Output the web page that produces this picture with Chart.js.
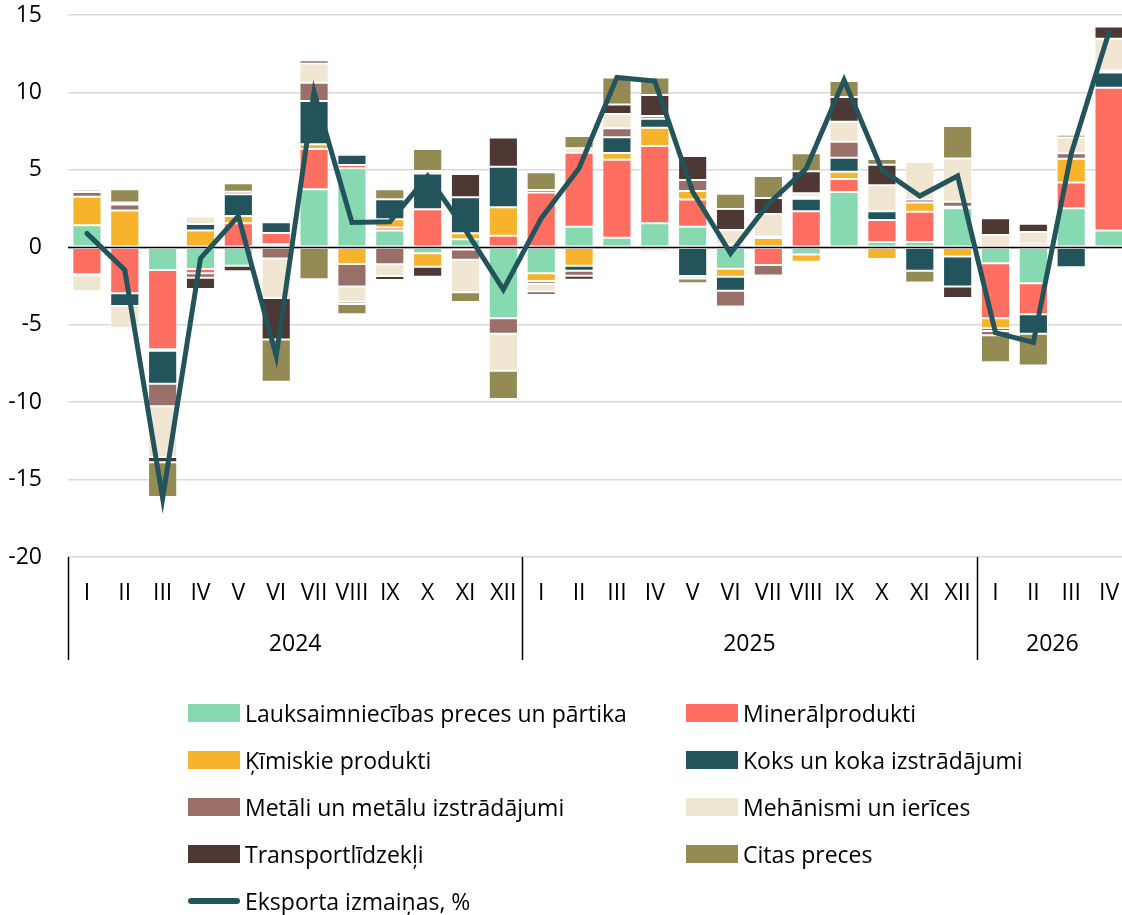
<!DOCTYPE html>
<html>
<head>
<meta charset="utf-8">
<script src="https://cdn.jsdelivr.net/npm/chart.js@4.4.0/dist/chart.umd.min.js"></script>
<style>
  html, body { margin: 0; padding: 0; background: #fff; overflow: hidden; width: 1122px; height: 915px; }
  #wrap { position: absolute; left: 0; top: 0; width: 1128px; height: 672px; }
  #legend { position: absolute; left: 0; top: 0; width: 1122px; height: 915px; font-family: 'Open Sans', sans-serif; font-size: 23px; color: #000; }
  .item { position: absolute; display: flex; align-items: center; white-space: nowrap; height: 30px; }
  .sw { width: 52px; height: 18px; margin-right: 5px; }
  .ln { width: 52px; height: 6px; border-radius: 3px; margin-right: 5px; }
</style>
</head>
<body>
<div id="wrap"><canvas id="chart" width="1128" height="672"></canvas></div>
<div id="legend"></div>
<script>
// Categories (months in roman numerals) and year groups
const months = ['I','II','III','IV','V','VI','VII','VIII','IX','X','XI','XII',
                'I','II','III','IV','V','VI','VII','VIII','IX','X','XI','XII',
                'I','II','III','IV'];
const years = ['2024', '2025', '2026'];
const yearSpans = [12, 12, 4];

// Contributions by product group (pp)
const agri      = [1.42, 0, -1.46, -1.4, -1.2, 0.2, 3.74, 5.1, 1.08, -0.39, 0.52, -4.58,
                   -1.68, 1.33, 0.62, 1.55, 1.33, -1.38, 0, -0.47, 3.57, 0.34, 0.34, 2.52,
                   -1.03, -2.32, 2.52, 1.08];
const mineral   = [-1.74, -2.97, -5.12, -0.28, 1.55, 0.73, 2.6, 0.22, 0.19, 2.45, -0.15, 0.75,
                   3.53, 4.78, 5.04, 4.99, 1.76, 0.2, -1.14, 2.32, 0.84, 1.42, 1.96, 0.1,
                   -3.55, -2.0, 1.66, 9.23];
const chemicals = [1.85, 2.37, -0.1, 1.08, 0.47, 0, 0.32, -1.08, 0.54, -0.86, 0.39, 1.83,
                   -0.49, -1.2, 0.43, 1.18, 0.54, -0.52, 0.6, -0.47, 0.47, -0.75, 0.6, -0.6,
                   -0.65, 0.08, 1.53, -0.1];
const wood      = [-0.07, -0.82, -2.13, 0.43, 1.4, 0.69, 2.78, 0.65, 1.29, 2.32, 2.32, 2.62,
                   0.17, -0.32, 1.01, 0.58, -1.85, -0.9, 0.09, 0.82, 0.9, 0.56, -1.51, -1.94,
                   -0.17, -1.27, -1.29, 0.97];
const metals    = [0.3, 0.39, -1.46, -0.28, 0.17, -0.73, 1.18, -1.46, -1.1, 0, -0.65, -1.01,
                   -0.19, -0.32, 0.58, 0.17, 0.71, -1.03, -0.69, 0.13, 1.03, 0, 0.19, 0.32,
                   -0.28, 0.15, 0.37, 0.13];
const machinery = [-1.03, -1.44, -3.27, 0.47, 0, -2.54, 1.25, -0.97, -0.75, 0.15, -2.11, -2.39,
                   -0.49, 0.28, 0.92, -0.28, -0.17, 0.92, 1.46, 0.22, 1.29, 1.68, 2.41, 2.8,
                   0.8, 0.75, 1.01, 2.05];
const transport = [0, 0.13, -0.34, -0.73, -0.34, -2.69, 0.19, -0.15, -0.26, -0.65, 1.5, 1.89,
                   -0.22, -0.26, 0.62, 1.36, 1.55, 1.36, 1.03, 1.42, 1.61, 1.33, 0.09, -0.73,
                   1.08, 0.54, 0, 0.8];
const other     = [0.15, 0.86, -2.24, 0.05, 0.54, -2.73, -2.07, -0.67, 0.65, 1.42, -0.62, -1.81,
                   1.14, 0.8, 1.74, 1.14, -0.3, 0.97, 1.42, 1.16, 1.03, 0.37, -0.77, 2.09,
                   -1.74, -2.05, 0.17, -0.1];
// Total export change, %
const exportChange = [0.9, -1.47, -16.2, -0.71, 2.02, -7.02, 10.04, 1.6, 1.65, 4.6, 1.1, -2.73,
                      1.87, 5.1, 10.97, 10.73, 3.59, -0.39, 2.8, 5.09, 10.8, 5.0, 3.31, 4.6,
                      -5.51, -6.15, 6.05, 13.92];

const FONT = "'Open Sans', sans-serif";
const FONT_SIZE = 23;

const barSeries = [
  { label: 'Lauksaimniecības preces un pārtika', data: agri, color: '#86d9b0' },
  { label: 'Minerālprodukti', data: mineral, color: '#ff6f61' },
  { label: 'Ķīmiskie produkti', data: chemicals, color: '#f7b32b' },
  { label: 'Koks un koka izstrādājumi', data: wood, color: '#23545b' },
  { label: 'Metāli un metālu izstrādājumi', data: metals, color: '#9a6f68' },
  { label: 'Mehānismi un ierīces', data: machinery, color: '#f0e6d2' },
  { label: 'Transportlīdzekļi', data: transport, color: '#4e3834' },
  { label: 'Citas preces', data: other, color: '#948a54' }
];
const lineLabel = 'Eksporta izmaiņas, %';
const lineColor = '#23545b';

const datasets = barSeries.map(s => ({
  type: 'bar',
  label: s.label,
  data: s.data,
  backgroundColor: s.color,
  borderColor: 'rgba(255,255,255,0.55)',
  borderWidth: 1,
  borderSkipped: false,
  categoryPercentage: 1,
  barPercentage: 0.77,
  stack: 'all',
  order: 1
}));
datasets.push({
  type: 'line',
  label: lineLabel,
  data: exportChange,
  borderColor: lineColor,
  backgroundColor: lineColor,
  borderWidth: 5,
  pointRadius: 0,
  tension: 0,
  borderCapStyle: 'round',
  order: 0
});

// zero line goes over bars but under the line
const zeroLine = {
  id: 'zeroLine',
  beforeDatasetDraw(chart, args) {
    if (args.index !== datasets.length - 1) return;
    const { ctx, chartArea, scales: { y } } = chart;
    const py = Math.round(y.getPixelForValue(0)) + 0.5;
    ctx.save();
    ctx.strokeStyle = '#000';
    ctx.lineWidth = 1.6;
    ctx.beginPath();
    ctx.moveTo(chartArea.left, py);
    ctx.lineTo(chartArea.right, py);
    ctx.stroke();
    ctx.restore();
  }
};

// two-level category axis: months, years, group separators
const groupAxis = {
  id: 'groupAxis',
  afterDraw(chart) {
    const { ctx, chartArea, scales: { x } } = chart;
    const step = x.getPixelForValue(1) - x.getPixelForValue(0);
    const b = chartArea.bottom;
    ctx.save();
    ctx.fillStyle = '#000';
    ctx.font = FONT_SIZE + 'px ' + FONT;
    ctx.textAlign = 'center';
    ctx.textBaseline = 'middle';
    months.forEach((m, i) => ctx.fillText(m, x.getPixelForValue(i), b + 36));

    ctx.strokeStyle = '#000';
    ctx.lineWidth = 1.5;
    let start = 0;
    const edges = [0];
    years.forEach((yr, k) => {
      const end = start + yearSpans[k];
      const x0 = x.getPixelForValue(start) - step / 2;
      const x1 = x.getPixelForValue(end - 1) + step / 2;
      ctx.fillText(yr, (x0 + x1) / 2, b + 87);
      edges.push(end);
      start = end;
    });
    edges.slice(0, -1).forEach(e => {
      const px = Math.round(x.getPixelForValue(e) - step / 2) + 0.5;
      ctx.beginPath();
      ctx.moveTo(px, b);
      ctx.lineTo(px, b + 103);
      ctx.stroke();
    });
    ctx.restore();
  }
};

const chart = new Chart(document.getElementById('chart'), {
  data: { labels: months, datasets: datasets },
  options: {
    responsive: false,
    animation: false,
    devicePixelRatio: 1,
    layout: { padding: { top: 15, right: 0, bottom: 0, left: 0 } },
    plugins: { legend: { display: false }, tooltip: { enabled: false }, title: { display: false } },
    scales: {
      x: {
        stacked: true,
        grid: { display: false },
        border: { display: false },
        ticks: { display: false },
        afterFit: s => { s.height = 115; }
      },
      y: {
        stacked: true,
        min: -20,
        max: 15,
        ticks: { stepSize: 5, color: '#000', padding: 26, font: { family: FONT, size: FONT_SIZE } },
        grid: { color: '#d9d9d9', lineWidth: 1.5, drawTicks: false },
        border: { display: false },
        afterFit: s => { s.width = 68; s.paddingTop = 0; s.paddingBottom = 0; }
      }
    }
  },
  plugins: [zeroLine, groupAxis]
});

// keep the top of the plot at y = 15 px
const dy = chart.chartArea.top - 15;
if (dy !== 0) {
  chart.options.layout.padding.top = 15 - dy;
  chart.update();
}

// legend in two columns below the chart
const legend = document.getElementById('legend');
const items = barSeries.map(s => ({ label: s.label, color: s.color, line: false }));
items.push({ label: lineLabel, color: lineColor, line: true });
items.forEach((it, i) => {
  const col = i % 2, row = Math.floor(i / 2);
  const div = document.createElement('div');
  div.className = 'item';
  div.style.left = (188 + col * 498) + 'px';
  div.style.top = (713 + row * 47 - 15) + 'px';
  const sw = document.createElement('span');
  sw.className = it.line ? 'ln' : 'sw';
  sw.style.background = it.color;
  const tx = document.createElement('span');
  tx.textContent = it.label;
  div.appendChild(sw);
  div.appendChild(tx);
  legend.appendChild(div);
});
</script>
</body>
</html>
